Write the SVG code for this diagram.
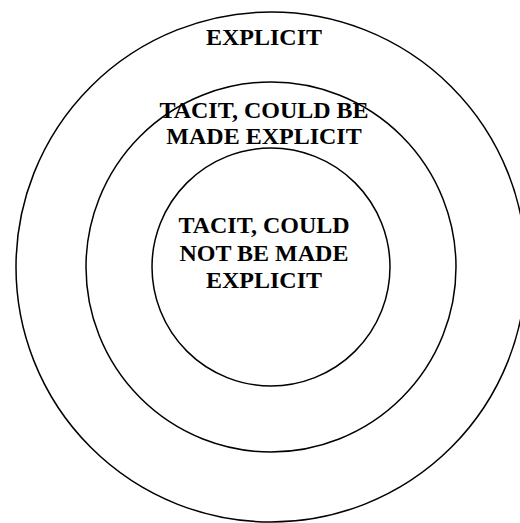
<svg xmlns="http://www.w3.org/2000/svg" width="520" height="523" viewBox="0 0 520 523">
<style>
.ring{fill:none;stroke:#000;stroke-width:1.5}
.lbl{font-family:"Liberation Serif","Times New Roman",serif;font-weight:bold;font-size:24px;fill:#000;text-anchor:middle}
</style>
<rect width="520" height="523" fill="#fff"/>
<g id="outer">
<circle class="ring" cx="271" cy="267" r="255"/>
<text class="lbl" x="264" y="45">EXPLICIT</text>
</g>
<g id="middle">
<circle class="ring" cx="271" cy="267" r="185"/>
<text class="lbl" x="264" y="118">TACIT, COULD BE</text>
<text class="lbl" x="264" y="144">MADE EXPLICIT</text>
</g>
<g id="inner">
<circle class="ring" cx="271" cy="267" r="119"/>
<text class="lbl" x="264" y="233">TACIT, COULD</text>
<text class="lbl" x="264" y="261">NOT BE MADE</text>
<text class="lbl" x="264" y="288">EXPLICIT</text>
</g>
<g id="connectors"/>
</svg>
